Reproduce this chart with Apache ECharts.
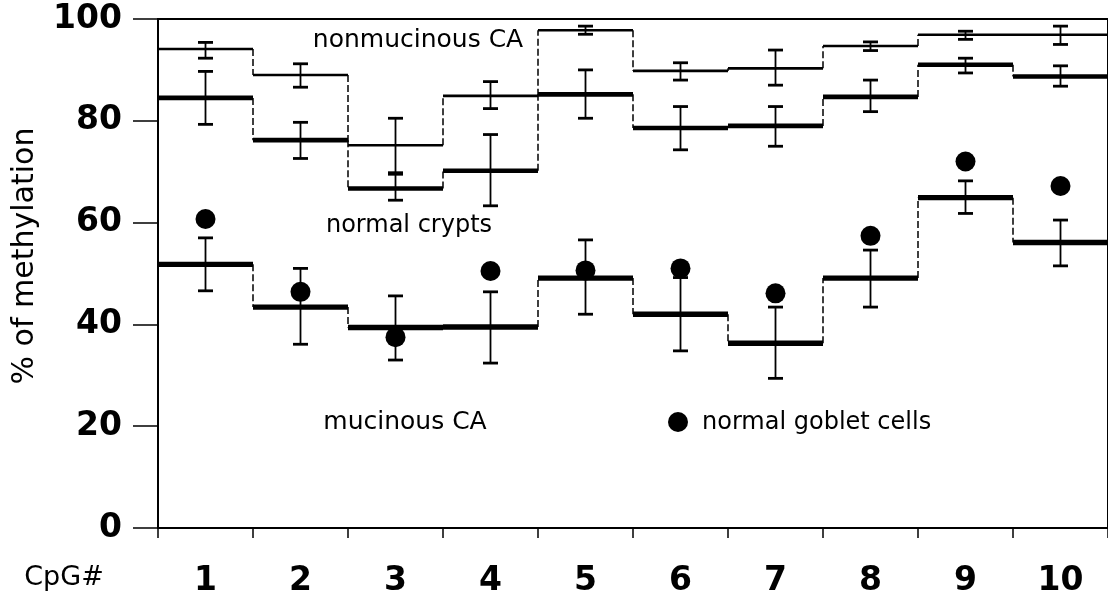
<!DOCTYPE html>
<html><head><meta charset="utf-8">
<script src="https://cdn.jsdelivr.net/npm/echarts@6/dist/echarts.min.js"></script>
<style>html,body{margin:0;padding:0;background:#fff}#c{width:1108px;height:598px}</style>
</head><body><div id="c"></div>
<script>
const categories = ['1','2','3','4','5','6','7','8','9','10'];
const yTicks = [0, 20, 40, 60, 80, 100];

const nonmucinous     = [94.1, 89.0, 75.2, 84.9, 97.8, 89.8, 90.3, 94.7, 96.9, 96.9];
const nonmucinousHigh = [95.4, 91.2, 80.5, 87.7, 98.6, 91.4, 93.9, 95.5, 97.6, 98.6];
const nonmucinousLow  = [92.3, 86.6, 69.8, 82.4, 97.0, 88.0, 87.0, 93.8, 96.0, 95.0];

const crypts     = [84.5, 76.2, 66.7, 70.2, 85.2, 78.6, 79.0, 84.7, 91.0, 88.7];
const cryptsHigh = [89.7, 79.7, 69.5, 77.3, 90.0, 82.8, 82.8, 88.0, 92.3, 90.8];
const cryptsLow  = [79.3, 72.6, 64.4, 63.3, 80.5, 74.3, 75.0, 81.8, 89.4, 86.8];

const mucinous     = [51.8, 43.4, 39.4, 39.5, 49.1, 42.0, 36.3, 49.1, 64.9, 56.1];
const mucinousHigh = [57.0, 51.0, 45.6, 46.4, 56.6, 49.2, 43.4, 54.6, 68.2, 60.5];
const mucinousLow  = [46.6, 36.1, 33.0, 32.4, 42.0, 34.8, 29.4, 43.4, 61.8, 51.5];

const goblet = [60.7, 46.4, 37.5, 50.5, 50.6, 51.0, 46.1, 57.4, 72.0, 67.2];

const FONT = 'DejaVu Sans';

function stepSeries(name, vals, hi, lo, lw) {
  const data = vals.map((v, i) => [i, v, i > 0 ? vals[i - 1] : v, hi[i], lo[i]]);
  return {
    type: 'custom', name, data, clip: false, z: 3,
    encode: { x: 0, y: 1 },
    renderItem(params, api) {
      const i = api.value(0);
      const c = api.coord([i, api.value(1)]);
      const bw = api.size([1, 0])[0];
      const x0 = c[0] - bw / 2, x1 = c[0] + bw / 2;
      const pPrev = api.coord([i, api.value(2)]);
      const ph = api.coord([i, api.value(3)]);
      const pl = api.coord([i, api.value(4)]);
      const cap = 7.5;
      const children = [];
      if (i > 0) {
        children.push({ type: 'line', shape: { x1: x0, y1: pPrev[1], x2: x0, y2: c[1] },
          style: { stroke: '#000', lineWidth: 1.5, lineDash: [7, 3] } });
      }
      children.push({ type: 'line', shape: { x1: x0, y1: c[1], x2: x1, y2: c[1] },
        style: { stroke: '#000', lineWidth: lw } });
      children.push({ type: 'line', shape: { x1: c[0], y1: ph[1], x2: c[0], y2: pl[1] },
        style: { stroke: '#000', lineWidth: 1.8 } });
      children.push({ type: 'line', shape: { x1: c[0] - cap, y1: ph[1], x2: c[0] + cap, y2: ph[1] },
        style: { stroke: '#000', lineWidth: 2.8 } });
      children.push({ type: 'line', shape: { x1: c[0] - cap, y1: pl[1], x2: c[0] + cap, y2: pl[1] },
        style: { stroke: '#000', lineWidth: 2.8 } });
      return { type: 'group', children };
    }
  };
}

const chart = echarts.init(document.getElementById('c'), null, { renderer: 'canvas' });
chart.setOption({
  animation: false,
  backgroundColor: '#fff',
  grid: { left: 158, top: 19, width: 953, height: 509, show: true, borderColor: '#000', borderWidth: 2, backgroundColor: 'transparent' },
  xAxis: {
    type: 'category', data: categories, boundaryGap: true,
    axisLine: { show: true, lineStyle: { color: '#000', width: 2 } },
    axisTick: { show: true, inside: false, length: 10, alignWithLabel: false, lineStyle: { color: '#000', width: 1.5 } },
    axisLabel: { margin: 37, fontFamily: FONT, fontSize: 33, fontWeight: 'bold', color: '#000' },
    splitLine: { show: false }
  },
  yAxis: {
    type: 'value', min: yTicks[0], max: yTicks[yTicks.length - 1], interval: yTicks[1] - yTicks[0],
    axisLine: { show: true, lineStyle: { color: '#000', width: 2 } },
    axisTick: { show: true, inside: false, length: 25, lineStyle: { color: '#000', width: 1.5 } },
    axisLabel: { margin: 36, fontFamily: FONT, fontSize: 33, fontWeight: 'bold', color: '#000' },
    splitLine: { show: false }
  },
  series: [
    stepSeries('nonmucinous CA', nonmucinous, nonmucinousHigh, nonmucinousLow, 2.6),
    stepSeries('normal crypts', crypts, cryptsHigh, cryptsLow, 4.6),
    stepSeries('mucinous CA', mucinous, mucinousHigh, mucinousLow, 5.4),
    { type: 'scatter', name: 'normal goblet cells', data: goblet, symbol: 'circle', symbolSize: 20,
      itemStyle: { color: '#000', opacity: 1 }, z: 5 }
  ],
  graphic: [
    { type: 'text', x: 418, y: 40, style: { text: 'nonmucinous CA', font: '25px "DejaVu Sans"', fill: '#000', align: 'center', verticalAlign: 'middle' } },
    { type: 'text', x: 409, y: 226, style: { text: 'normal crypts', font: '24px "DejaVu Sans"', fill: '#000', align: 'center', verticalAlign: 'middle' } },
    { type: 'text', x: 405, y: 422, style: { text: 'mucinous CA', font: '25px "DejaVu Sans"', fill: '#000', align: 'center', verticalAlign: 'middle' } },
    { type: 'circle', shape: { cx: 678, cy: 422, r: 10 }, style: { fill: '#000' } },
    { type: 'text', x: 702, y: 423, style: { text: 'normal goblet cells', font: '24px "DejaVu Sans"', fill: '#000', align: 'left', verticalAlign: 'middle' } },
    { type: 'text', x: 64, y: 578, style: { text: 'CpG#', font: '27px "DejaVu Sans"', fill: '#000', align: 'center', verticalAlign: 'middle' } },
    { type: 'text', x: 25, y: 256, rotation: Math.PI / 2, style: { text: '% of methylation', font: '30px "DejaVu Sans"', fill: '#000', align: 'center', verticalAlign: 'middle' } }
  ]
});
</script>
</body></html>
